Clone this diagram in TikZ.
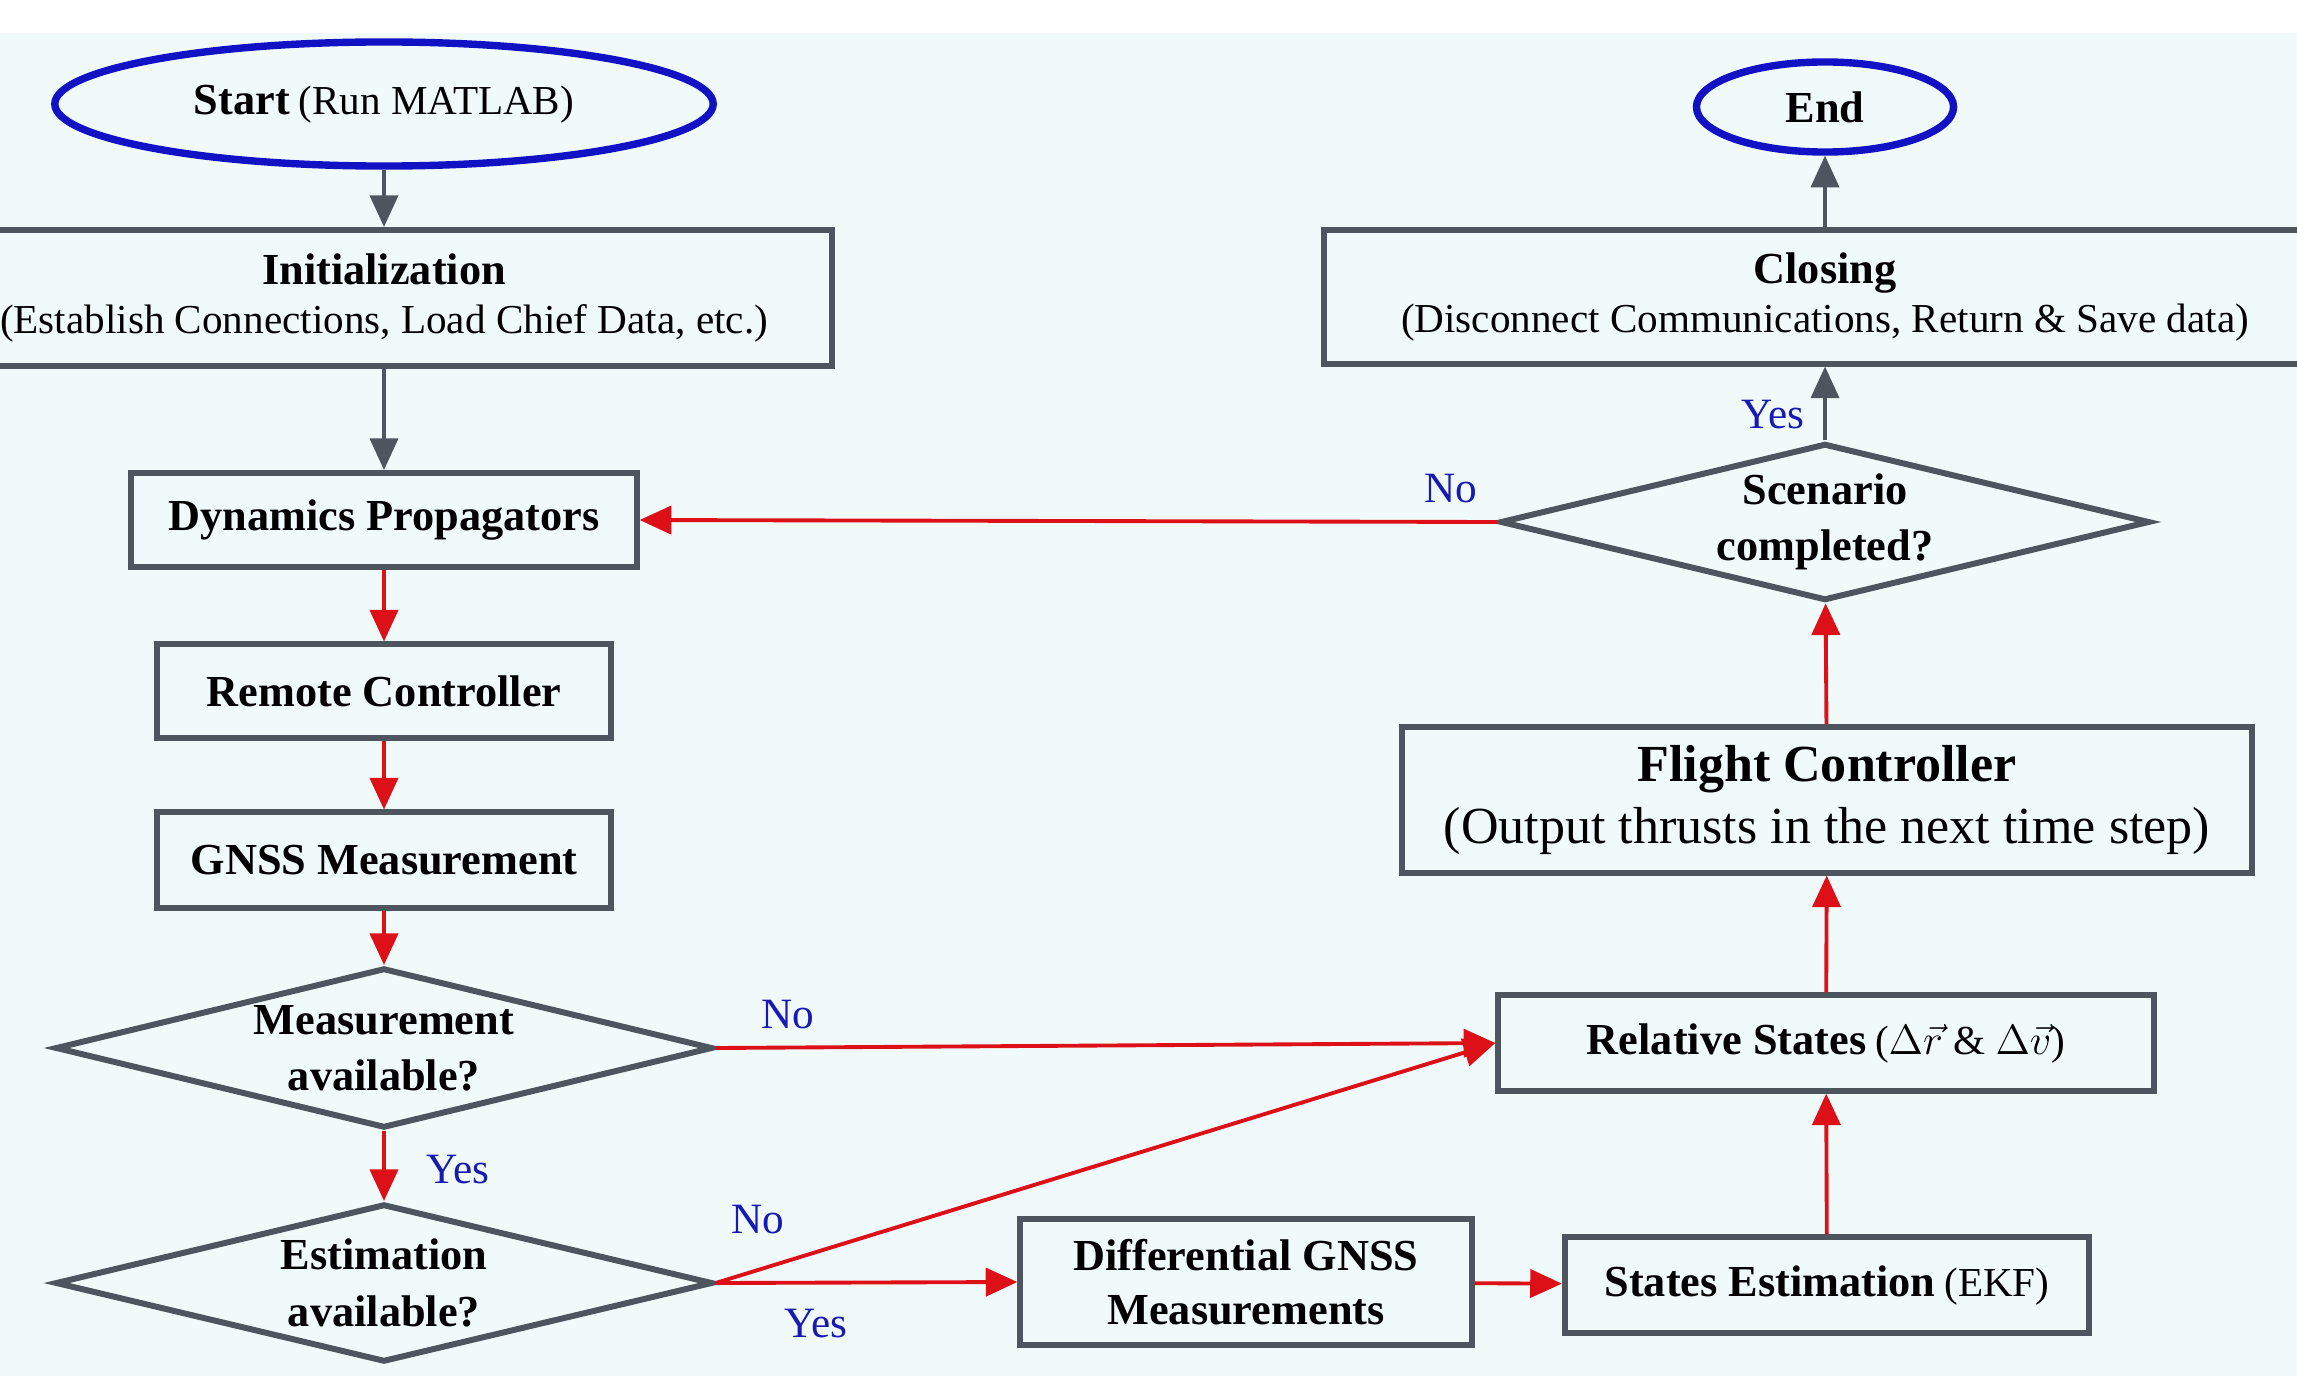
\documentclass[tikz,border=0pt]{standalone}
\usepackage{fontspec}
\setmainfont{Liberation Serif}
\usetikzlibrary{shapes.geometric,arrows.meta}
\definecolor{bgc}{HTML}{F0FAFB}
\definecolor{grayc}{HTML}{4D565E}
\definecolor{redc}{HTML}{DD1018}
\definecolor{bluec}{HTML}{1212C4}
\definecolor{lblc}{HTML}{1A1AB0}
\newcommand\myreg{\fontsize{11.7}{14.5}\selectfont\mdseries}
\newcommand\mybold{\fontsize{12.6}{14.5}\selectfont\bfseries}
\begin{document}
\begin{tikzpicture}[x=0.01cm,y=-0.01cm,
  boxn/.style={draw=grayc,line width=1.7pt,rectangle,align=center,inner sep=0pt},
  dia/.style={draw=grayc,line width=1.7pt,diamond,aspect=4,align=center,inner sep=0pt,
    font=\fontsize{12.6}{16}\selectfont\bfseries},
  ell/.style={draw=bluec,line width=2.1pt,ellipse,align=center,inner sep=0pt},
  garrow/.style={draw=grayc,line width=1pt,-{Triangle[length=9pt,width=8pt]}},
  rarrow/.style={draw=redc,line width=1.1pt,-{Triangle[length=9pt,width=8pt]}},
  lbl/.style={text=lblc,font=\fontsize{12.3}{14}\selectfont,inner sep=0pt}]
\useasboundingbox (0,0) rectangle (2297,1376);
\clip (0,0) rectangle (2297,1376);
\fill[bgc] (0,33) rectangle (2297,1376);
% nodes
\node[ell,minimum width=6.58cm,minimum height=1.24cm] (start) at (384,104)
  {{\mybold Start} {\myreg(Run MATLAB)}};
\node[boxn,minimum width=8.96cm,minimum height=1.36cm,font=\fontsize{12.6}{14}\selectfont] (init) at (384,298)
  {{\mybold Initialization}\\{\myreg(Establish Connections, Load Chief Data, etc.)}};
\node[boxn,minimum width=5.05cm,minimum height=0.94cm] (dyn) at (384,520)
  {\mybold Dynamics Propagators};
\node[boxn,minimum width=4.54cm,minimum height=0.93cm] (remote) at (384,691)
  {\mybold Remote Controller};
\node[boxn,minimum width=4.54cm,minimum height=0.95cm] (gnss) at (384,860)
  {\mybold GNSS Measurement};
\node[dia,minimum width=6.57cm,minimum height=1.60cm] (meas) at (384,1048)
  {Measurement\\available?};
\node[dia,minimum width=6.57cm,minimum height=1.58cm] (est) at (384,1283)
  {Estimation\\available?};
\node[boxn,minimum width=4.51cm,minimum height=1.26cm,font=\fontsize{12.6}{15.5}\selectfont\bfseries] (diff) at (1246,1282)
  {Differential GNSS\\Measurements};
\node[boxn,minimum width=5.24cm,minimum height=0.95cm] (sest) at (1827,1285)
  {{\mybold States Estimation} {\myreg(EKF)}};
\node[boxn,minimum width=6.55cm,minimum height=0.95cm] (rel) at (1826,1043)
  {{\mybold Relative States} {\myreg($\Delta\vec{r}$ \& $\Delta\vec{v}$)}};
\node[boxn,minimum width=8.50cm,minimum height=1.45cm,font=\fontsize{14.8}{17.5}\selectfont] (flight) at (1827,800)
  {{\bfseries Flight Controller}\\(Output thrusts in the next time step)};
\node[dia,minimum width=6.49cm,minimum height=1.57cm] (scen) at (1825,522)
  {Scenario\\completed?};
\node[boxn,minimum width=10.02cm,minimum height=1.33cm,font=\fontsize{12.6}{14}\selectfont] (closing) at (1825,297)
  {{\mybold Closing}\\{\myreg(Disconnect Communications, Return \& Save data)}};
\node[ell,minimum width=2.57cm,minimum height=0.90cm] (end) at (1825,107)
  {\mybold End};
% labels
\node[lbl] (lno1) at (1451,489) {No};
\node[lbl] (lyes1) at (1773,415) {Yes};
\node[lbl] (lno2) at (788,1015) {No};
\node[lbl] (lyes2) at (458,1170) {Yes};
\node[lbl] (lno3) at (758,1220) {No};
\node[lbl] (lyes3) at (816,1324) {Yes};
% connectors
\draw[garrow] (start) -- (init);
\draw[garrow] (init) -- (dyn);
\draw[rarrow] (dyn) -- (remote);
\draw[rarrow] (remote) -- (gnss);
\draw[rarrow] (gnss) -- (meas);
\draw[rarrow] (meas) -- (est);
\draw[rarrow] (meas.east) -- (rel.west);
\draw[rarrow] (est.east) -- (rel.west);
\draw[rarrow] (est.east) -- (diff.west);
\draw[rarrow] (diff) -- (sest);
\draw[rarrow] (sest) -- (rel);
\draw[rarrow] (rel) -- (flight);
\draw[rarrow] (flight) -- (scen);
\draw[rarrow] (scen.west) -- (dyn.east);
\draw[garrow] (scen.north) -- (closing.south);
\draw[garrow] (closing) -- (end);
\end{tikzpicture}
\end{document}
